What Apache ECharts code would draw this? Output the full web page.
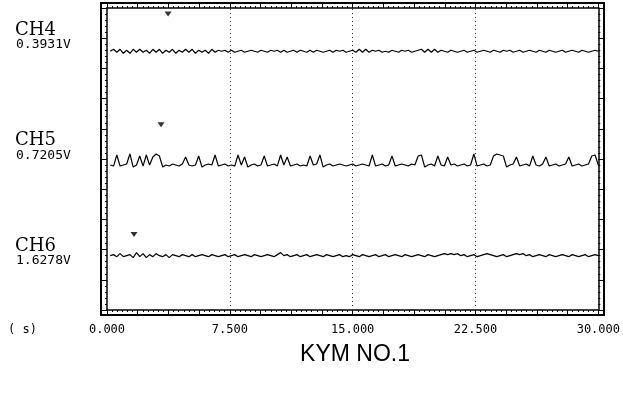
<!DOCTYPE html>
<html>
<head>
<meta charset="utf-8">
<script src="https://cdn.jsdelivr.net/npm/echarts@6/dist/echarts.min.js"></script>
<style>html,body{margin:0;padding:0;background:#fff}#c{width:623px;height:396px}</style>
</head>
<body>
<div id="c"></div>
<script>
// ---- data ----
const sampleStep = 0.2; // seconds between samples
const channelNames = ['CH4', 'CH5', 'CH6'];
const channelReadings = ['0.3931V', '0.7205V', '1.6278V'];
const channelBaselines = [257, 144, 54];
const xTicks = [0, 7.5, 15, 22.5, 30];
const gridTimes = [7.5, 15, 22.5];
const xUnit = '( s)';
const chartTitle = 'KYM NO.1';

const ch4 = [
 0,2,-1,2,-2,1,-2,2,-1,2, -1,1,-2,2,-1,2,-2,1,-1,2, -2,1,-1,2,-1,2,-2,1,-1,1, -2,2,-1,1,0,1,-1,1,-1,0,
 1,-1,0,1,0,-1,1,0,-1,1, 0,1,-1,1,-1,0,1,-1,1,0, -1,1,-1,1,0,-1,0,1,-1,1, 0,1,-1,0,1,-1,2,-1,2,-1,
 1,0,1,-1,0,-1,1,0,-1,1, 0,1,-1,0,1,2,-1,2,-1,2, -1,1,0,-1,1,0,-1,0,1,-1, 0,1,-1,0,1,0,-1,1,0,-1,
 1,0,1,-1,0,1,-1,0,1,0, -1,1,0,-1,1,0,-1,0,1,-1, 0,1,0,-1,1,0,-1,0,1,0
];
const ch5 = [
 0,-1,10,-1,0,1,11,-2,0,9, -1,10,0,8,11,9,-2,0,-1,1, 0,-1,1,8,0,-1,0,9,-2,0, 1,0,10,-1,0,1,-1,0,-1,10,
 0,8,-2,0,1,-1,0,9,-1,0, 1,-1,10,0,8,-1,0,1,-1,0, -1,9,0,1,10,-2,0,1,-1,0, 1,0,-1,0,1,-1,0,1,0,-1,
 10,-1,0,1,-1,0,9,-1,0,1, 0,-1,1,0,9,10,-2,0,1,-1, 9,0,-1,8,0,1,-1,0,1,-1, 0,11,-1,0,1,-1,0,9,11,10,
 9,-2,0,1,8,-1,0,1,-1,9, 0,-1,1,8,-1,0,1,-1,0,1, 8,-1,0,1,-1,0,1,9,10,0
];
const ch6 = [
 0,1,-1,2,-1,0,1,-2,3,-1, 2,-2,1,-1,2,0,-1,1,-2,1, 0,-1,1,0,-1,1,-1,0,1,0, -1,1,0,-1,0,1,-1,0,1,-1,
 0,1,0,-1,1,0,-1,0,1,0, -1,1,3,0,1,-1,0,1,-1,0, 1,-1,0,1,0,-1,1,0,-1,0, 1,-1,0,-1,1,0,-1,1,0,-1,
 0,1,-1,0,1,-1,0,1,0,-1, 1,0,-1,0,1,0,-1,1,0,-1, 0,1,2,1,2,1,2,0,1,-1, 0,1,-1,0,1,2,1,0,-1,0,
 1,-1,0,1,2,1,2,0,1,-1, 0,1,0,-1,1,0,-1,0,1,0, -1,1,0,-1,0,1,-1,0,1,0
];
const markerTimes = [3.73, 3.3, 1.65];
const markerValues = [294, 184, 75];

// ---- chart ----
const traces = [ch4, ch5, ch6];
const chart = echarts.init(document.getElementById('c'), null, {renderer: 'canvas'});
const mono = '"DejaVu Sans Mono", monospace';
const serif = '"DejaVu Serif", serif';

const tickStyle = {color: '#000', width: 1};
const rulerX = (pos, labels) => ({
  type: 'value', gridIndex: 0, position: pos, min: 0, max: 30, interval: 1.875,
  axisLine: {show: true, onZero: false, lineStyle: {color: '#000', width: 1.5}},
  axisTick: {show: true, inside: false, length: 5, lineStyle: tickStyle},
  minorTick: {show: true, splitNumber: 6, length: 2, lineStyle: tickStyle},
  axisLabel: labels ? {show: true, margin: 14, color: '#000', fontFamily: mono, fontSize: 12,
    formatter: v => xTicks.indexOf(v) >= 0 ? v.toFixed(3) : ''} : {show: false},
  splitLine: {show: false}
});
const rulerY = (pos) => ({
  type: 'value', gridIndex: 0, position: pos, min: 0, max: 300, interval: 30,
  axisLine: {show: true, onZero: false, lineStyle: {color: '#000', width: 1.5}},
  axisTick: {show: true, inside: false, length: 5, lineStyle: tickStyle},
  minorTick: {show: true, splitNumber: 5, length: 2, lineStyle: tickStyle},
  axisLabel: {show: false}, splitLine: {show: false}
});

const series = traces.map((arr, k) => ({
  type: 'line', xAxisIndex: 0, yAxisIndex: 0, showSymbol: false, animation: false, smooth: false,
  lineStyle: {color: '#000', width: 1.2},
  data: arr.map((d, i) => [(i + 1) * sampleStep, channelBaselines[k] + d])
}));
series[0].markLine = {
  silent: true, symbol: 'none', label: {show: false},
  lineStyle: {color: '#333', type: [1, 3], width: 1},
  data: gridTimes.map(t => ({xAxis: t}))
};
series.push({
  type: 'scatter', xAxisIndex: 0, yAxisIndex: 0, symbol: 'triangle', symbolRotate: 180,
  symbolSize: [7, 5], itemStyle: {color: '#000'}, animation: false,
  data: markerTimes.map((t, i) => [t, markerValues[i]])
});

const labelY = [[30, 45], [140, 156], [246, 261]];
const graphics = [
  {type: 'rect', shape: {x: 101, y: 3, width: 503, height: 312}, style: {fill: 'none', stroke: '#000', lineWidth: 2}, z: 10},
  {type: 'text', x: 8, y: 330, style: {text: xUnit, font: '12px ' + mono, fill: '#000', textVerticalAlign: 'middle'}},
  {type: 'text', x: 355, y: 355, style: {text: chartTitle, font: '23px "Liberation Sans", Arial, sans-serif', fill: '#000', textAlign: 'center', textVerticalAlign: 'middle'}}
];
channelNames.forEach((n, i) => {
  graphics.push({type: 'text', x: 15, y: labelY[i][0], style: {text: n, font: '18px ' + serif, fill: '#000', textVerticalAlign: 'middle'}});
  graphics.push({type: 'text', x: 16, y: labelY[i][1], style: {text: channelReadings[i], font: '13px ' + mono, fill: '#000', textVerticalAlign: 'middle'}});
});

chart.setOption({
  animation: false,
  backgroundColor: '#fff',
  grid: {left: 107, right: 24, top: 8, bottom: 86, show: false},
  xAxis: [rulerX('bottom', true), rulerX('top', false)],
  yAxis: [rulerY('left'), rulerY('right')],
  series: series,
  graphic: graphics
});
</script>
</body>
</html>
